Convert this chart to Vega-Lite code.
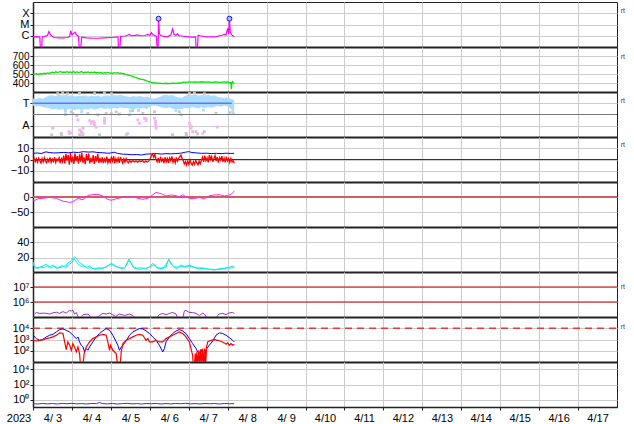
{
"$schema": "https://vega.github.io/schema/vega-lite/v6.json",
"padding": {"left": 2, "top": 1, "right": 0, "bottom": 0},
"spacing": 0,
"bounds": "flush",
"datasets": {
"xray": [{"h":0,"v":8e-7},{"h":2,"v":8.5e-7},{"h":4.2,"v":8e-7},{"h":4.5,"v":1e-7},{"h":5.4,"v":1e-7},{"h":5.7,"v":8e-7},{"h":7,"v":8.5e-7},{"h":9,"v":1.1e-6},{"h":9.8,"v":2.4e-6},{"h":10.5,"v":1.5e-6},{"h":11.5,"v":1e-6},{"h":13,"v":7e-7},{"h":16,"v":6.5e-7},{"h":19,"v":6.5e-7},{"h":21,"v":7e-7},{"h":22.5,"v":8e-7},{"h":23.3,"v":2.8e-6},{"h":24,"v":1.2e-6},{"h":25,"v":1.6e-6},{"h":26,"v":2.1e-6},{"h":26.8,"v":1.2e-6},{"h":28,"v":9e-7},{"h":28.5,"v":1e-7},{"h":29.5,"v":1e-7},{"h":30,"v":7.5e-7},{"h":33,"v":6.5e-7},{"h":36,"v":6.2e-7},{"h":40,"v":6e-7},{"h":44,"v":6.5e-7},{"h":48,"v":7e-7},{"h":51,"v":7.5e-7},{"h":52.4,"v":8e-7},{"h":52.6,"v":1e-7},{"h":53.6,"v":1e-7},{"h":54,"v":9e-7},{"h":57,"v":9.5e-7},{"h":59.5,"v":1.3e-6},{"h":60.5,"v":1e-6},{"h":63,"v":1.1e-6},{"h":64.5,"v":1.2e-6},{"h":66,"v":1e-6},{"h":69,"v":1.05e-6},{"h":70.5,"v":1.3e-6},{"h":72,"v":1.1e-6},{"h":73,"v":1.9e-6},{"h":74,"v":1.2e-6},{"h":76,"v":9e-7},{"h":76.5,"v":1e-7},{"h":77.1,"v":1e-7},{"h":77.4,"v":3.3e-5},{"h":77.9,"v":1.5e-6},{"h":78.6,"v":1.1e-6},{"h":80,"v":9e-7},{"h":83,"v":8e-7},{"h":85,"v":1.2e-6},{"h":86,"v":4e-6},{"h":87,"v":1.3e-6},{"h":88,"v":1.1e-6},{"h":89,"v":1.5e-6},{"h":90,"v":1e-6},{"h":93,"v":9e-7},{"h":96,"v":8e-7},{"h":98,"v":7.5e-7},{"h":100.2,"v":8e-7},{"h":100.5,"v":1e-7},{"h":101.4,"v":1e-7},{"h":101.8,"v":1.1e-6},{"h":103,"v":1e-6},{"h":106,"v":8.5e-7},{"h":110,"v":8e-7},{"h":113,"v":8.5e-7},{"h":115,"v":1e-6},{"h":116.5,"v":1.1e-6},{"h":118,"v":1.3e-6},{"h":119,"v":1.2e-6},{"h":120,"v":4.5e-6},{"h":120.6,"v":1.5e-6},{"h":121.1,"v":3.3e-5},{"h":121.6,"v":2e-6},{"h":122.5,"v":1.2e-6},{"h":124,"v":8e-7}],
"flares": [{"h":77.4,"v":3.3e-5},{"h":121.1,"v":3.3e-5}],
"sw": [{"h":0,"v":500},{"h":1,"v":497},{"h":2,"v":503},{"h":3,"v":498},{"h":4,"v":500},{"h":5,"v":505},{"h":6,"v":502},{"h":7,"v":508},{"h":8,"v":504},{"h":9,"v":512},{"h":10,"v":506},{"h":11,"v":515},{"h":12,"v":520},{"h":13,"v":512},{"h":14,"v":524},{"h":15,"v":518},{"h":16,"v":522},{"h":17,"v":528},{"h":18,"v":516},{"h":19,"v":522},{"h":20,"v":519},{"h":21,"v":526},{"h":22,"v":517},{"h":23,"v":523},{"h":24,"v":515},{"h":25,"v":530},{"h":26,"v":512},{"h":27,"v":525},{"h":28,"v":517},{"h":29,"v":520},{"h":30,"v":527},{"h":31,"v":514},{"h":32,"v":521},{"h":33,"v":518},{"h":34,"v":524},{"h":35,"v":513},{"h":36,"v":520},{"h":37,"v":515},{"h":38,"v":522},{"h":39,"v":512},{"h":40,"v":518},{"h":41,"v":510},{"h":42,"v":516},{"h":43,"v":508},{"h":44,"v":514},{"h":45,"v":511},{"h":46,"v":517},{"h":47,"v":509},{"h":48,"v":512},{"h":49,"v":506},{"h":50,"v":514},{"h":51,"v":510},{"h":52,"v":515},{"h":53,"v":508},{"h":54,"v":512},{"h":55,"v":505},{"h":56,"v":503},{"h":57,"v":496},{"h":58,"v":490},{"h":59,"v":485},{"h":60,"v":482},{"h":61,"v":475},{"h":62,"v":470},{"h":63,"v":462},{"h":64,"v":458},{"h":65,"v":452},{"h":66,"v":447},{"h":67,"v":440},{"h":68,"v":437},{"h":69,"v":432},{"h":70,"v":425},{"h":71,"v":418},{"h":72,"v":412},{"h":73,"v":407},{"h":74,"v":403},{"h":75,"v":398},{"h":76,"v":400},{"h":77,"v":395},{"h":78,"v":398},{"h":80,"v":394},{"h":82,"v":397},{"h":84,"v":393},{"h":86,"v":397},{"h":88,"v":395},{"h":90,"v":400},{"h":92,"v":405},{"h":93,"v":412},{"h":94,"v":408},{"h":96,"v":412},{"h":98,"v":409},{"h":100,"v":413},{"h":102,"v":410},{"h":104,"v":414},{"h":106,"v":409},{"h":108,"v":412},{"h":110,"v":408},{"h":112,"v":413},{"h":114,"v":410},{"h":116,"v":407},{"h":118,"v":412},{"h":119,"v":406},{"h":120,"v":414},{"h":121,"v":400},{"h":122,"v":405},{"h":122.3,"v":330},{"h":122.6,"v":400},{"h":123,"v":415},{"h":124,"v":392}],
"cloud": [{"h":0,"hi":1.72,"lo":1.40},{"h":2,"hi":1.68,"lo":1.36},{"h":4,"hi":1.74,"lo":1.38},{"h":6,"hi":1.70,"lo":1.33},{"h":8,"hi":1.78,"lo":1.30},{"h":10,"hi":1.84,"lo":1.28},{"h":12,"hi":1.86,"lo":1.22},{"h":14,"hi":1.82,"lo":1.26},{"h":16,"hi":1.88,"lo":1.20},{"h":18,"hi":1.84,"lo":1.25},{"h":20,"hi":1.87,"lo":1.18},{"h":22,"hi":1.83,"lo":1.24},{"h":24,"hi":1.86,"lo":1.22},{"h":26,"hi":1.80,"lo":1.20},{"h":28,"hi":1.85,"lo":1.25},{"h":30,"hi":1.82,"lo":1.19},{"h":32,"hi":1.86,"lo":1.24},{"h":34,"hi":1.80,"lo":1.22},{"h":36,"hi":1.84,"lo":1.27},{"h":38,"hi":1.81,"lo":1.21},{"h":40,"hi":1.85,"lo":1.26},{"h":42,"hi":1.79,"lo":1.30},{"h":44,"hi":1.83,"lo":1.25},{"h":46,"hi":1.86,"lo":1.28},{"h":48,"hi":1.82,"lo":1.24},{"h":50,"hi":1.87,"lo":1.30},{"h":52,"hi":1.84,"lo":1.27},{"h":54,"hi":1.88,"lo":1.32},{"h":56,"hi":1.83,"lo":1.28},{"h":58,"hi":1.80,"lo":1.30},{"h":60,"hi":1.78,"lo":1.25},{"h":62,"hi":1.82,"lo":1.22},{"h":64,"hi":1.79,"lo":1.28},{"h":66,"hi":1.83,"lo":1.26},{"h":68,"hi":1.77,"lo":1.30},{"h":70,"hi":1.80,"lo":1.24},{"h":72,"hi":1.74,"lo":1.34},{"h":74,"hi":1.70,"lo":1.40},{"h":76,"hi":1.72,"lo":1.38},{"h":78,"hi":1.78,"lo":1.35},{"h":80,"hi":1.86,"lo":1.30},{"h":82,"hi":1.88,"lo":1.28},{"h":84,"hi":1.84,"lo":1.32},{"h":86,"hi":1.87,"lo":1.26},{"h":88,"hi":1.80,"lo":1.24},{"h":90,"hi":1.76,"lo":1.22},{"h":92,"hi":1.74,"lo":1.26},{"h":94,"hi":1.85,"lo":1.30},{"h":96,"hi":1.88,"lo":1.28},{"h":98,"hi":1.86,"lo":1.33},{"h":100,"hi":1.89,"lo":1.30},{"h":102,"hi":1.85,"lo":1.27},{"h":104,"hi":1.87,"lo":1.32},{"h":106,"hi":1.84,"lo":1.29},{"h":108,"hi":1.88,"lo":1.33},{"h":110,"hi":1.83,"lo":1.30},{"h":112,"hi":1.86,"lo":1.35},{"h":114,"hi":1.78,"lo":1.38},{"h":116,"hi":1.76,"lo":1.35},{"h":118,"hi":1.74,"lo":1.40},{"h":120,"hi":1.76,"lo":1.37},{"h":122,"hi":1.70,"lo":1.25},{"h":124,"hi":1.65,"lo":1.15}],
"bluepts": [{"h":0.3,"v":1.55},{"h":1,"v":1.45},{"h":122.8,"v":1.12},{"h":123.5,"v":1.06},{"h":60,"v":1.15},{"h":65,"v":1.18},{"h":20,"v":1.14},{"h":30,"v":1.12},{"h":105,"v":1.2},{"h":88,"v":1.17}],
"graypts": [{"h":17.4,"v":0.16},{"h":22.6,"v":0.16},{"h":23.6,"v":1.12},{"h":24.6,"v":1.05},{"h":29.7,"v":0.24},{"h":30.8,"v":0.39},{"h":33.8,"v":1.05},{"h":45.1,"v":1.05},{"h":48.2,"v":1.05},{"h":51.3,"v":1.12},{"h":53.3,"v":1.02},{"h":59.5,"v":0.98},{"h":61.5,"v":1.17},{"h":67.7,"v":1.05},{"h":74.9,"v":1.12},{"h":90.2,"v":1.12},{"h":91.3,"v":0.98},{"h":94.3,"v":0.16},{"h":100.5,"v":0.24},{"h":101.5,"v":0.14},{"h":105.6,"v":0.24},{"h":112.8,"v":1.05},{"h":121,"v":1.08},{"h":15.2,"v":1.93},{"h":18.3,"v":1.95},{"h":21.3,"v":1.92},{"h":28.7,"v":1.94},{"h":38,"v":1.93},{"h":44,"v":1.95},{"h":48.4,"v":1.92},{"h":96.4,"v":1.93},{"h":99.5,"v":1.95},{"h":105.6,"v":1.92},{"h":20,"v":1.0},{"h":27,"v":0.95},{"h":40,"v":0.98},{"h":11.5,"v":0.1},{"h":17.7,"v":0.1},{"h":28.7,"v":0.1},{"h":30.6,"v":0.1},{"h":41,"v":0.1},{"h":57.7,"v":0.12},{"h":86,"v":0.1},{"h":94.6,"v":0.1}],
"pinkpts": [{"h":12.3,"v":0.39},{"h":12.1,"v":0.42},{"h":22.2,"v":0.24},{"h":23.6,"v":0.19},{"h":27.7,"v":0.76},{"h":28.7,"v":0.31},{"h":30.8,"v":0.16},{"h":34.9,"v":0.73},{"h":35.9,"v":0.61},{"h":35.9,"v":0.68},{"h":37.3,"v":0.68},{"h":37.9,"v":0.53},{"h":37.9,"v":0.6},{"h":39,"v":0.43},{"h":44.1,"v":0.83},{"h":44.1,"v":0.72},{"h":44.1,"v":0.61},{"h":58.5,"v":0.16},{"h":64.6,"v":0.76},{"h":65.6,"v":0.61},{"h":68.7,"v":0.83},{"h":69.7,"v":0.73},{"h":69.7,"v":0.8},{"h":74.9,"v":0.83},{"h":75.5,"v":0.61},{"h":75.5,"v":0.7},{"h":75.7,"v":0.5},{"h":75.9,"v":0.39},{"h":96.4,"v":0.61},{"h":97,"v":0.5},{"h":97.4,"v":0.46},{"h":97.4,"v":0.39},{"h":98.4,"v":0.24},{"h":104.6,"v":0.16},{"h":113.7,"v":0.44}],
"tline": [{"h":0,"v":1.5},{"h":122.5,"v":1.5}],
"bt": [{"h":0,"v":5.5},{"h":3,"v":5.8},{"h":5,"v":5.3},{"h":8,"v":6.8},{"h":10,"v":6.2},{"h":13,"v":5.8},{"h":16,"v":6.0},{"h":19,"v":6.3},{"h":22,"v":6.0},{"h":25,"v":6.5},{"h":28,"v":6.2},{"h":31,"v":7.0},{"h":34,"v":6.6},{"h":37,"v":6.8},{"h":40,"v":6.2},{"h":43,"v":6.0},{"h":46,"v":5.6},{"h":48,"v":5.8},{"h":50,"v":6.5},{"h":52,"v":5.5},{"h":55,"v":4.8},{"h":58,"v":4.6},{"h":61,"v":4.2},{"h":64,"v":4.4},{"h":67,"v":4.0},{"h":70,"v":4.8},{"h":73,"v":5.0},{"h":76,"v":5.4},{"h":79,"v":4.8},{"h":82,"v":5.2},{"h":85,"v":5.0},{"h":88,"v":5.3},{"h":91,"v":5.6},{"h":94,"v":6.5},{"h":96,"v":7.0},{"h":98,"v":6.2},{"h":101,"v":5.8},{"h":104,"v":5.5},{"h":107,"v":5.6},{"h":110,"v":5.3},{"h":113,"v":5.5},{"h":116,"v":5.2},{"h":119,"v":5.6},{"h":122,"v":5.4},{"h":124,"v":5.5}],
"bz": [{"h":0,"v":-1.5},{"h":0.7,"v":1.0},{"h":1.4,"v":-2.0},{"h":2.1,"v":0.5},{"h":2.8,"v":-2.5},{"h":3.5,"v":1.2},{"h":4.2,"v":-1.0},{"h":4.9,"v":-3.0},{"h":5.6,"v":0.8},{"h":6.3,"v":-2.2},{"h":7,"v":1.5},{"h":7.7,"v":-1.5},{"h":8.4,"v":-3.0},{"h":9.1,"v":0.3},{"h":9.8,"v":-2.0},{"h":10.5,"v":1.8},{"h":11.2,"v":-2.5},{"h":11.9,"v":0.5},{"h":12.6,"v":-1.8},{"h":13.3,"v":2.0},{"h":14,"v":-2.8},{"h":14.7,"v":0.2},{"h":15.4,"v":-1.2},{"h":16.1,"v":1.6},{"h":16.8,"v":-3.2},{"h":17.5,"v":0.8},{"h":18.2,"v":-2.0},{"h":18.9,"v":3.5},{"h":19.6,"v":-3.5},{"h":20.3,"v":5.0},{"h":21,"v":-1.0},{"h":21.7,"v":4.0},{"h":22.4,"v":-4.5},{"h":23.1,"v":6.0},{"h":23.8,"v":-2.5},{"h":24.5,"v":2.5},{"h":25.2,"v":-4.0},{"h":25.9,"v":5.5},{"h":26.6,"v":-1.5},{"h":27.3,"v":3.0},{"h":28,"v":-3.8},{"h":28.7,"v":4.5},{"h":29.4,"v":-2.0},{"h":30.1,"v":6.0},{"h":30.8,"v":-3.0},{"h":31.5,"v":2.0},{"h":32.2,"v":-4.2},{"h":32.9,"v":4.8},{"h":33.6,"v":-1.0},{"h":34.3,"v":5.2},{"h":35,"v":-3.5},{"h":35.7,"v":1.5},{"h":36.4,"v":-2.5},{"h":37.1,"v":4.0},{"h":37.8,"v":-4.0},{"h":38.5,"v":3.0},{"h":39.2,"v":-1.8},{"h":39.9,"v":5.0},{"h":40.6,"v":-3.0},{"h":41.3,"v":1.5},{"h":42,"v":-2.8},{"h":42.7,"v":2.0},{"h":43.4,"v":-3.2},{"h":44.1,"v":0.5},{"h":44.8,"v":-2.0},{"h":45.5,"v":2.5},{"h":46.2,"v":-3.0},{"h":46.9,"v":0.0},{"h":47.6,"v":-2.5},{"h":48.3,"v":1.8},{"h":49,"v":-1.5},{"h":49.7,"v":3.0},{"h":50.4,"v":-3.3},{"h":51.1,"v":0.8},{"h":51.8,"v":-2.2},{"h":52.5,"v":1.2},{"h":53.2,"v":-3.0},{"h":53.9,"v":2.2},{"h":54.6,"v":-1.0},{"h":55.3,"v":-3.4},{"h":56,"v":0.5},{"h":56.7,"v":-2.5},{"h":57.4,"v":1.0},{"h":58.1,"v":-2.0},{"h":58.8,"v":-3.0},{"h":59.5,"v":-1.0},{"h":60.5,"v":-2.4},{"h":61.5,"v":-0.8},{"h":62.5,"v":-2.2},{"h":63.5,"v":-1.2},{"h":64.5,"v":-2.6},{"h":65.5,"v":-1.0},{"h":66.5,"v":-2.0},{"h":67.5,"v":-0.9},{"h":68.5,"v":-2.5},{"h":69.5,"v":-1.4},{"h":70.5,"v":-2.2},{"h":71.5,"v":-1.0},{"h":72.3,"v":1.0},{"h":73,"v":3.5},{"h":73.7,"v":5.0},{"h":74.4,"v":2.0},{"h":75.1,"v":4.5},{"h":75.8,"v":0.5},{"h":76.5,"v":-2.0},{"h":77.2,"v":1.5},{"h":77.9,"v":-3.0},{"h":78.6,"v":2.5},{"h":79.3,"v":-1.5},{"h":80,"v":0.5},{"h":80.7,"v":-3.2},{"h":81.4,"v":2.0},{"h":82.1,"v":-2.2},{"h":82.8,"v":0.8},{"h":83.5,"v":-3.0},{"h":84.2,"v":1.5},{"h":84.9,"v":-1.0},{"h":85.6,"v":2.8},{"h":86.3,"v":-2.5},{"h":87,"v":0.2},{"h":87.7,"v":-3.0},{"h":88.4,"v":1.8},{"h":89.1,"v":-1.5},{"h":89.8,"v":1.0},{"h":90.5,"v":2.5},{"h":91.2,"v":4.0},{"h":91.9,"v":1.0},{"h":92.6,"v":-1.0},{"h":93.3,"v":-4.0},{"h":94,"v":-2.0},{"h":94.7,"v":-5.0},{"h":95.4,"v":-1.5},{"h":96.1,"v":-4.5},{"h":96.8,"v":-0.5},{"h":97.5,"v":-3.5},{"h":98.2,"v":-5.0},{"h":98.9,"v":-2.0},{"h":99.6,"v":-4.2},{"h":100.3,"v":-1.0},{"h":101,"v":-3.0},{"h":101.7,"v":-4.8},{"h":102.4,"v":-1.5},{"h":103.1,"v":-3.8},{"h":103.8,"v":-0.8},{"h":104.5,"v":2.0},{"h":105.2,"v":-2.0},{"h":105.9,"v":3.5},{"h":106.6,"v":-1.0},{"h":107.3,"v":1.5},{"h":108,"v":-2.5},{"h":108.7,"v":4.0},{"h":109.4,"v":0.0},{"h":110.1,"v":2.8},{"h":110.8,"v":-2.2},{"h":111.5,"v":1.0},{"h":112.2,"v":3.5},{"h":112.9,"v":-1.5},{"h":113.6,"v":2.2},{"h":114.3,"v":-2.8},{"h":115,"v":1.8},{"h":115.7,"v":-0.5},{"h":116.4,"v":3.0},{"h":117.1,"v":-2.0},{"h":117.8,"v":1.2},{"h":118.5,"v":-2.5},{"h":119.2,"v":2.5},{"h":119.9,"v":-1.2},{"h":120.6,"v":0.8},{"h":121.3,"v":-2.8},{"h":122,"v":1.0},{"h":122.7,"v":-2.2},{"h":123.4,"v":-1.0},{"h":124.1,"v":-3.4}],
"dst": [{"h":0,"v":-10},{"h":1,"v":-12},{"h":3.1,"v":-5.6},{"h":6.2,"v":-4.4},{"h":10.3,"v":-1},{"h":14.4,"v":-4.4},{"h":18.5,"v":-14},{"h":22.6,"v":-17.8},{"h":24.6,"v":-15.5},{"h":26.7,"v":-7.8},{"h":28.7,"v":-3.3},{"h":29.7,"v":-10},{"h":31.8,"v":-5.6},{"h":33.8,"v":5.5},{"h":36.9,"v":7.8},{"h":40,"v":8.9},{"h":43.1,"v":3.3},{"h":46.1,"v":-7.8},{"h":48.2,"v":-11},{"h":51.3,"v":-5.6},{"h":54.4,"v":-2.2},{"h":57.4,"v":0},{"h":59.5,"v":-2.2},{"h":61.5,"v":2},{"h":64.6,"v":-4.4},{"h":67.7,"v":-7.8},{"h":70.8,"v":-4.4},{"h":72.8,"v":3.3},{"h":75.9,"v":15.5},{"h":79,"v":11},{"h":82,"v":3.3},{"h":85.1,"v":6.7},{"h":88.2,"v":4.4},{"h":90.2,"v":0.5},{"h":92.3,"v":7.8},{"h":94.3,"v":0.5},{"h":96.4,"v":-4.4},{"h":99.5,"v":-5.6},{"h":102.6,"v":-1},{"h":105.6,"v":-6.7},{"h":108.7,"v":4.4},{"h":111.8,"v":6.7},{"h":114.9,"v":7.8},{"h":117.9,"v":3.3},{"h":120,"v":5.5},{"h":122,"v":7.8},{"h":124.1,"v":20}],
"dens": [{"s":"a","h":0,"v":14.6},{"s":"a","h":1,"v":7.1},{"s":"a","h":3.1,"v":5.8},{"s":"a","h":6.2,"v":8.9},{"s":"a","h":8.2,"v":11.5},{"s":"a","h":10.3,"v":7.1},{"s":"a","h":12.3,"v":10.2},{"s":"a","h":14.4,"v":5.8},{"s":"a","h":17.4,"v":7.1},{"s":"a","h":19.5,"v":8.9},{"s":"a","h":21.5,"v":12.4},{"s":"a","h":23.6,"v":15.9},{"s":"a","h":25.6,"v":21.1},{"s":"a","h":26.7,"v":18.9},{"s":"a","h":28.7,"v":13.3},{"s":"a","h":30.8,"v":10.2},{"s":"a","h":32.8,"v":7.1},{"s":"a","h":34.9,"v":8.9},{"s":"a","h":36.9,"v":5.4},{"s":"a","h":39,"v":4.5},{"s":"a","h":41,"v":5.8},{"s":"a","h":45.1,"v":7.1},{"s":"a","h":48.2,"v":12.4},{"s":"a","h":50.2,"v":10.2},{"s":"a","h":52.3,"v":7.1},{"s":"a","h":55.4,"v":5.4},{"s":"a","h":57.4,"v":8.9},{"s":"a","h":59,"v":18.1},{"s":"a","h":60.5,"v":12.4},{"s":"a","h":62.6,"v":5.8},{"s":"a","h":65.6,"v":4.5},{"s":"a","h":68.7,"v":5.4},{"s":"a","h":71.8,"v":7.1},{"s":"a","h":73.8,"v":12.4},{"s":"a","h":75.9,"v":7.1},{"s":"a","h":79,"v":5.4},{"s":"a","h":82,"v":7.1},{"s":"a","h":83.6,"v":18.1},{"s":"a","h":85.1,"v":11.5},{"s":"a","h":88.2,"v":5.4},{"s":"a","h":91.3,"v":10.2},{"s":"a","h":94.3,"v":7.1},{"s":"a","h":96.4,"v":10.2},{"s":"a","h":99.5,"v":7.1},{"s":"a","h":102.6,"v":5.4},{"s":"a","h":105.6,"v":5.8},{"s":"a","h":108.7,"v":4.5},{"s":"a","h":111.8,"v":3.6},{"s":"a","h":114.9,"v":5.4},{"s":"a","h":117.9,"v":5.8},{"s":"a","h":121,"v":7.1},{"s":"a","h":123.1,"v":8.9},{"s":"a","h":124.1,"v":7.1},
{"s":"b","h":0,"v":12},{"s":"b","h":1.5,"v":6},{"s":"b","h":4,"v":7.5},{"s":"b","h":7,"v":6.5},{"s":"b","h":9,"v":9.5},{"s":"b","h":11,"v":6.0},{"s":"b","h":13,"v":8.5},{"s":"b","h":15.5,"v":6.5},{"s":"b","h":18,"v":9.5},{"s":"b","h":20,"v":7.0},{"s":"b","h":22,"v":10.5},{"s":"b","h":24,"v":13.5},{"s":"b","h":25.2,"v":18.5},{"s":"b","h":26.2,"v":16.0},{"s":"b","h":27.5,"v":12.0},{"s":"b","h":29.5,"v":8.5},{"s":"b","h":31.5,"v":9.0},{"s":"b","h":33.5,"v":6.0},{"s":"b","h":35.5,"v":6.5},{"s":"b","h":38,"v":5.0},{"s":"b","h":40,"v":6.5},{"s":"b","h":43,"v":5.5},{"s":"b","h":46,"v":9.5},{"s":"b","h":49,"v":11.0},{"s":"b","h":51,"v":8.0},{"s":"b","h":54,"v":6.5},{"s":"b","h":56.5,"v":6.0},{"s":"b","h":58.5,"v":14.0},{"s":"b","h":59.5,"v":16.5},{"s":"b","h":61.5,"v":8.0},{"s":"b","h":64,"v":6.0},{"s":"b","h":67,"v":6.5},{"s":"b","h":70,"v":5.5},{"s":"b","h":73,"v":9.0},{"s":"b","h":74.8,"v":10.5},{"s":"b","h":77,"v":6.0},{"s":"b","h":80.5,"v":6.5},{"s":"b","h":83,"v":14.5},{"s":"b","h":84,"v":16.5},{"s":"b","h":86.5,"v":8.0},{"s":"b","h":89.5,"v":7.5},{"s":"b","h":92.5,"v":8.0},{"s":"b","h":95.5,"v":9.0},{"s":"b","h":97.5,"v":8.0},{"s":"b","h":101,"v":6.0},{"s":"b","h":104,"v":6.5},{"s":"b","h":107,"v":5.0},{"s":"b","h":110,"v":4.5},{"s":"b","h":113,"v":4.2},{"s":"b","h":116.5,"v":4.8},{"s":"b","h":119.5,"v":6.5},{"s":"b","h":122,"v":6.0},{"s":"b","h":124.1,"v":8.0}],
"proton": [{"h":1,"v":158000},{"h":2.1,"v":200000},{"h":4.1,"v":174000},{"h":7.2,"v":182000},{"h":10.3,"v":158000},{"h":12.3,"v":190000},{"h":14.4,"v":209000},{"h":16.4,"v":174000},{"h":18.5,"v":229000},{"h":20.5,"v":182000},{"h":22.6,"v":275000},{"h":23.6,"v":251000},{"h":24.6,"v":275000},{"h":25.6,"v":158000},{"h":26.7,"v":200000},{"h":27.7,"v":110000},{"h":28.7,"v":80000},{"h":30.8,"v":140000},{"h":33.8,"v":158000},{"h":36,"v":90000},{"h":39.5,"v":90000},{"h":41,"v":126000},{"h":43.1,"v":174000},{"h":45.1,"v":158000},{"h":47.2,"v":182000},{"h":49.2,"v":140000},{"h":51,"v":110000},{"h":53.3,"v":158000},{"h":56.4,"v":126000},{"h":59.5,"v":158000},{"h":61.5,"v":126000},{"h":63,"v":90000},{"h":66,"v":80000},{"h":76,"v":80000},{"h":77.9,"v":145000},{"h":80,"v":174000},{"h":82,"v":140000},{"h":84.1,"v":174000},{"h":86.1,"v":200000},{"h":88.2,"v":158000},{"h":89.2,"v":80000},{"h":92.3,"v":80000},{"h":93.3,"v":251000},{"h":94.3,"v":275000},{"h":96.4,"v":200000},{"h":98.4,"v":200000},{"h":100.5,"v":174000},{"h":102.6,"v":126000},{"h":104.6,"v":182000},{"h":105.6,"v":158000},{"h":107.7,"v":80000},{"h":112.8,"v":80000},{"h":113.8,"v":126000},{"h":114.9,"v":158000},{"h":116.9,"v":174000},{"h":119,"v":145000},{"h":121,"v":190000},{"h":123.1,"v":200000},{"h":124.1,"v":174000}],
"eblue": [{"h":0,"v":2400},{"h":2.1,"v":1200},{"h":4.1,"v":850},{"h":6.2,"v":1050},{"h":8.2,"v":1700},{"h":10.3,"v":2400},{"h":12.3,"v":2900},{"h":14.4,"v":4700},{"h":16.4,"v":7600},{"h":18.5,"v":8700},{"h":20.5,"v":6600},{"h":22.6,"v":4700},{"h":24.6,"v":2400},{"h":26.7,"v":1200},{"h":27.7,"v":1700},{"h":28.7,"v":610},{"h":29.7,"v":310},{"h":30.8,"v":220},{"h":31.8,"v":79},{"h":32.8,"v":155},{"h":33.8,"v":110},{"h":34.9,"v":220},{"h":36.9,"v":610},{"h":39,"v":1700},{"h":41,"v":3400},{"h":43.1,"v":5800},{"h":45.1,"v":9300},{"h":47.2,"v":6600},{"h":49.2,"v":2400},{"h":51.3,"v":610},{"h":52.3,"v":310},{"h":53.3,"v":110},{"h":54.4,"v":220},{"h":55.4,"v":310},{"h":57.4,"v":740},{"h":59.5,"v":2400},{"h":61.5,"v":4700},{"h":63.6,"v":6600},{"h":65.6,"v":9300},{"h":67.7,"v":8700},{"h":69.7,"v":5800},{"h":71.8,"v":3400},{"h":73.8,"v":1700},{"h":75.9,"v":850},{"h":77.9,"v":310},{"h":80,"v":79},{"h":81,"v":155},{"h":82,"v":610},{"h":84.1,"v":1700},{"h":86.1,"v":3400},{"h":88.2,"v":5800},{"h":90.2,"v":7600},{"h":92.3,"v":5800},{"h":94.3,"v":3400},{"h":96.4,"v":1200},{"h":98.4,"v":435},{"h":100.5,"v":155},{"h":101.5,"v":79},{"h":102.6,"v":56},{"h":103.6,"v":126},{"h":104.6,"v":56},{"h":105.4,"v":5},{"h":105.8,"v":40},{"h":106.7,"v":126},{"h":108.7,"v":310},{"h":110.8,"v":740},{"h":112.8,"v":2400},{"h":114.9,"v":3900},{"h":116.9,"v":3400},{"h":119,"v":2400},{"h":121,"v":1480},{"h":123.1,"v":850},{"h":124.1,"v":610}],
"ered": [{"h":0,"v":850},{"h":2.1,"v":740},{"h":4.1,"v":850},{"h":6.2,"v":980},{"h":8.2,"v":1200},{"h":10.3,"v":1380},{"h":12.3,"v":1700},{"h":14.4,"v":2400},{"h":16.4,"v":3900},{"h":18.5,"v":3400},{"h":19.5,"v":610},{"h":20.5,"v":126},{"h":21.5,"v":610},{"h":22.6,"v":310},{"h":23.6,"v":110},{"h":24.6,"v":435},{"h":25.6,"v":220},{"h":26.7,"v":79},{"h":27.7,"v":220},{"h":28.7,"v":56},{"h":29.3,"v":5},{"h":30.8,"v":5},{"h":31.5,"v":56},{"h":32.8,"v":220},{"h":34.9,"v":610},{"h":36.9,"v":1200},{"h":39,"v":1700},{"h":41,"v":2400},{"h":43.1,"v":2900},{"h":45.1,"v":2400},{"h":46.1,"v":610},{"h":47.2,"v":110},{"h":47.8,"v":310},{"h":49.2,"v":110},{"h":51.3,"v":56},{"h":52.1,"v":5},{"h":53.7,"v":5},{"h":54.4,"v":79},{"h":55.4,"v":435},{"h":57.4,"v":850},{"h":59.5,"v":1200},{"h":61.5,"v":1700},{"h":63.6,"v":2400},{"h":65.6,"v":2900},{"h":67.7,"v":2400},{"h":69.7,"v":850},{"h":70.8,"v":1200},{"h":71.8,"v":610},{"h":73.8,"v":610},{"h":75.9,"v":850},{"h":77.9,"v":610},{"h":80,"v":610},{"h":82,"v":1200},{"h":84.1,"v":1700},{"h":86.1,"v":2400},{"h":88.2,"v":3400},{"h":90.2,"v":4700},{"h":92.3,"v":3400},{"h":94.3,"v":1700},{"h":96.4,"v":610},{"h":97.4,"v":155},{"h":98.4,"v":40},{"h":98.8,"v":5},{"h":99.5,"v":5},{"h":100,"v":56},{"h":100.5,"v":5},{"h":101,"v":79},{"h":101.6,"v":5},{"h":102.2,"v":110},{"h":102.8,"v":5},{"h":103.4,"v":126},{"h":104,"v":5},{"h":104.6,"v":155},{"h":105.2,"v":5},{"h":105.8,"v":155},{"h":106.4,"v":5},{"h":107,"v":220},{"h":107.7,"v":610},{"h":109.7,"v":850},{"h":111.8,"v":980},{"h":113.8,"v":850},{"h":115.9,"v":700},{"h":117.9,"v":500},{"h":119,"v":380},{"h":120,"v":500},{"h":121,"v":310},{"h":122,"v":435},{"h":123.1,"v":310},{"h":124.1,"v":380}],
"p9": [{"h":0,"v":0.28},{"h":3,"v":0.25},{"h":6,"v":0.3},{"h":9,"v":0.26},{"h":12,"v":0.29},{"h":15,"v":0.25},{"h":18,"v":0.3},{"h":21,"v":0.27},{"h":24,"v":0.31},{"h":27,"v":0.26},{"h":30,"v":0.29},{"h":33,"v":0.25},{"h":36,"v":0.3},{"h":39,"v":0.28},{"h":41,"v":0.4},{"h":43,"v":0.29},{"h":46,"v":0.26},{"h":49,"v":0.3},{"h":52,"v":0.25},{"h":55,"v":0.28},{"h":58,"v":0.31},{"h":61,"v":0.26},{"h":64,"v":0.29},{"h":67,"v":0.25},{"h":70,"v":0.3},{"h":73,"v":0.27},{"h":76,"v":0.3},{"h":79,"v":0.25},{"h":82,"v":0.29},{"h":85,"v":0.26},{"h":88,"v":0.3},{"h":91,"v":0.27},{"h":94,"v":0.31},{"h":97,"v":0.26},{"h":100,"v":0.29},{"h":103,"v":0.25},{"h":106,"v":0.3},{"h":109,"v":0.27},{"h":112,"v":0.29},{"h":115,"v":0.25},{"h":118,"v":0.3},{"h":121,"v":0.27},{"h":124,"v":0.29}]
},
"vconcat": [
{"width":584,"height":45,
 "encoding":{"x":{"field":"h","type":"quantitative","title":null,"scale":{"domain":[0,360],"nice":false,"zero":false},"axis":{"values":[0,24,48,72,96,120,144,168,192,216,240,264,288,312,336],"tickCount":30,"labels":false,"ticks":false,"domainWidth":2,"grid":true,"minExtent":0,"maxExtent":0}}},
 "layer":[
  {"data":{"name":"xray"},"mark":{"type":"line","color":"#ff00ff","strokeWidth":1.2,"clip":true},"encoding":{"y":{"field":"v","type":"quantitative","title":null,"scale":{"type":"log","domain":[1e-7,1e-3]},"axis":{"values":[1e-6,1e-5,1e-4],"tickCount":10,"labelOverlap":false,"labelExpr":"datum.value < 3e-6 ? 'C' : datum.value < 3e-5 ? 'M' : 'X'"}}}},
  {"data":{"name":"flares"},"mark":{"type":"point","shape":"circle","filled":true,"fill":"#b4b4ff","stroke":"#1010ff","strokeWidth":1,"size":24,"opacity":1},"encoding":{"y":{"field":"v","type":"quantitative","title":null}}},
  {"data":{"values":[{"h":362.3,"v":1.5e-4,"lab":"rt"}]},"mark":{"type":"text","align":"left","baseline":"middle","fontSize":7,"color":"#444"},"encoding":{"y":{"field":"v","type":"quantitative","title":null},"text":{"field":"lab"}}}
 ]},
{"width":584,"height":45,
 "encoding":{"x":{"field":"h","type":"quantitative","title":null,"scale":{"domain":[0,360],"nice":false,"zero":false},"axis":{"values":[0,24,48,72,96,120,144,168,192,216,240,264,288,312,336],"tickCount":30,"labels":false,"ticks":false,"domainWidth":2,"grid":true,"minExtent":0,"maxExtent":0}}},
 "layer":[
  {"data":{"name":"sw"},"mark":{"type":"line","color":"#00e600","strokeWidth":1.3,"clip":true},"encoding":{"y":{"field":"v","type":"quantitative","title":null,"scale":{"domain":[300,800],"nice":false,"zero":false},"axis":{"values":[400,500,600,700],"tickCount":10,"labelOverlap":false,"labelFontSize":10}}}},
  {"data":{"values":[{"h":362.3,"v":689,"lab":"rt"}]},"mark":{"type":"text","align":"left","baseline":"middle","fontSize":7,"color":"#444"},"encoding":{"y":{"field":"v","type":"quantitative","title":null},"text":{"field":"lab"}}}
 ]},
{"width":584,"height":45,
 "encoding":{"x":{"field":"h","type":"quantitative","title":null,"scale":{"domain":[0,360],"nice":false,"zero":false},"axis":{"values":[0,24,48,72,96,120,144,168,192,216,240,264,288,312,336],"tickCount":30,"labels":false,"ticks":false,"domainWidth":2,"grid":true,"minExtent":0,"maxExtent":0}}},
 "layer":[
  {"data":{"name":"cloud"},"mark":{"type":"area","color":"#aadcff","opacity":1},"encoding":{"y":{"field":"hi","type":"quantitative","title":null,"scale":{"domain":[0,2],"nice":false,"zero":false},"axis":{"values":[0.5,1.5],"tickCount":10,"labelOverlap":false,"labelExpr":"datum.value > 1 ? 'T' : 'A'"}},"y2":{"field":"lo"}}},
  {"data":{"name":"bluepts"},"mark":{"type":"square","size":8,"color":"#aadcff","opacity":1},"encoding":{"y":{"field":"v","type":"quantitative","title":null}}},
  {"data":{"name":"graypts"},"mark":{"type":"square","size":8,"color":"#c8c8c8","opacity":1},"encoding":{"y":{"field":"v","type":"quantitative","title":null}}},
  {"data":{"name":"pinkpts"},"mark":{"type":"square","size":8,"color":"#f8b4f0","opacity":1},"encoding":{"y":{"field":"v","type":"quantitative","title":null}}},
  {"data":{"values":[{"h":0,"h2":360,"v":1}]},"mark":{"type":"rule","color":"#777777","strokeWidth":1},"encoding":{"x2":{"field":"h2"},"y":{"field":"v","type":"quantitative","title":null}}},
  {"data":{"name":"tline"},"mark":{"type":"line","color":"#6a74ee","strokeWidth":1.5},"encoding":{"y":{"field":"v","type":"quantitative","title":null}}},
  {"data":{"values":[{"h":362.3,"v":1.6,"lab":"rt"}]},"mark":{"type":"text","align":"left","baseline":"middle","fontSize":7,"color":"#444"},"encoding":{"y":{"field":"v","type":"quantitative","title":null},"text":{"field":"lab"}}}
 ]},
{"width":584,"height":45,
 "encoding":{"x":{"field":"h","type":"quantitative","title":null,"scale":{"domain":[0,360],"nice":false,"zero":false},"axis":{"values":[0,24,48,72,96,120,144,168,192,216,240,264,288,312,336],"tickCount":30,"labels":false,"ticks":false,"domainWidth":2,"grid":true,"minExtent":0,"maxExtent":0}}},
 "layer":[
  {"data":{"values":[{"h":0,"h2":360,"v":0}]},"mark":{"type":"rule","color":"#aa0000","strokeWidth":1},"encoding":{"x2":{"field":"h2"},"y":{"field":"v","type":"quantitative","title":null,"scale":{"domain":[-20,20],"nice":false,"zero":false},"axis":{"values":[-10,0,10],"tickCount":10,"labelOverlap":false}}}},
  {"data":{"name":"bt"},"mark":{"type":"line","color":"#0000ff","strokeWidth":1},"encoding":{"y":{"field":"v","type":"quantitative","title":null}}},
  {"data":{"name":"bz"},"mark":{"type":"line","color":"#ff0000","strokeWidth":1.3},"encoding":{"y":{"field":"v","type":"quantitative","title":null}}},
  {"data":{"values":[{"h":362.3,"v":12.9,"lab":"rt"}]},"mark":{"type":"text","align":"left","baseline":"middle","fontSize":7,"color":"#444"},"encoding":{"y":{"field":"v","type":"quantitative","title":null},"text":{"field":"lab"}}}
 ]},
{"width":584,"height":45,
 "encoding":{"x":{"field":"h","type":"quantitative","title":null,"scale":{"domain":[0,360],"nice":false,"zero":false},"axis":{"values":[0,24,48,72,96,120,144,168,192,216,240,264,288,312,336],"tickCount":30,"labels":false,"ticks":false,"domainWidth":2,"grid":true,"minExtent":0,"maxExtent":0}}},
 "layer":[
  {"data":{"values":[{"h":0,"h2":360,"v":0}]},"mark":{"type":"rule","color":"#cc6060","strokeWidth":2},"encoding":{"x2":{"field":"h2"},"y":{"field":"v","type":"quantitative","title":null,"scale":{"domain":[-100,50],"nice":false,"zero":false},"axis":{"values":[-50,0],"tickCount":10,"labelOverlap":false}}}},
  {"data":{"name":"dst"},"mark":{"type":"line","color":"#ff22ff","strokeWidth":1},"encoding":{"y":{"field":"v","type":"quantitative","title":null}}}
 ]},
{"width":584,"height":45,
 "encoding":{"x":{"field":"h","type":"quantitative","title":null,"scale":{"domain":[0,360],"nice":false,"zero":false},"axis":{"values":[0,24,48,72,96,120,144,168,192,216,240,264,288,312,336],"tickCount":30,"labels":false,"ticks":false,"domainWidth":2,"grid":true,"minExtent":0,"maxExtent":0}}},
 "layer":[
  {"data":{"name":"dens"},"mark":{"type":"line","color":"#00eeee","strokeWidth":1},"encoding":{"detail":{"field":"s"},"y":{"field":"v","type":"quantitative","title":null,"scale":{"domain":[1,60],"nice":false,"zero":false},"axis":{"values":[20,40],"tickCount":10,"labelOverlap":false}}}}
 ]},
{"width":584,"height":45,
 "encoding":{"x":{"field":"h","type":"quantitative","title":null,"scale":{"domain":[0,360],"nice":false,"zero":false},"axis":{"values":[0,24,48,72,96,120,144,168,192,216,240,264,288,312,336],"tickCount":30,"labels":false,"ticks":false,"domainWidth":2,"grid":true,"minExtent":0,"maxExtent":0}}},
 "layer":[
  {"data":{"values":[{"h":0,"h2":360,"v":1000000},{"h":0,"h2":360,"v":10000000}]},"mark":{"type":"rule","color":"#cc0000","strokeWidth":1},"encoding":{"x2":{"field":"h2"},"y":{"field":"v","type":"quantitative","title":null,"scale":{"type":"log","domain":[100000,50000000]},"axis":{"values":[1000000,10000000],"tickCount":10,"labelOverlap":false,"labelExpr":"datum.value > 3000000 ? '10⁷' : '10⁶'"}}}},
  {"data":{"name":"proton"},"mark":{"type":"line","color":"#9b30d9","strokeWidth":1,"clip":true},"encoding":{"y":{"field":"v","type":"quantitative","title":null}}},
  {"data":{"values":[{"h":362.3,"v":10000000,"lab":"rt"}]},"mark":{"type":"text","align":"left","baseline":"middle","fontSize":7,"color":"#444"},"encoding":{"y":{"field":"v","type":"quantitative","title":null},"text":{"field":"lab"}}}
 ]},
{"width":584,"height":45,
 "encoding":{"x":{"field":"h","type":"quantitative","title":null,"scale":{"domain":[0,360],"nice":false,"zero":false},"axis":{"values":[0,24,48,72,96,120,144,168,192,216,240,264,288,312,336],"tickCount":30,"labels":false,"ticks":false,"domainWidth":2,"grid":true,"minExtent":0,"maxExtent":0}}},
 "layer":[
  {"data":{"values":[{"h":0,"h2":360,"v":10000}]},"mark":{"type":"rule","color":"#e03a3a","strokeWidth":1.3,"strokeDash":[7,5]},"encoding":{"x2":{"field":"h2"},"y":{"field":"v","type":"quantitative","title":null,"scale":{"type":"log","domain":[10,100000]},"axis":{"values":[100,1000,10000],"tickCount":10,"labelOverlap":false,"labelExpr":"datum.value > 3000 ? '10⁴' : datum.value > 300 ? '10³' : '10²'"}}}},
  {"data":{"name":"eblue"},"mark":{"type":"line","color":"#0000ff","strokeWidth":1,"clip":true},"encoding":{"y":{"field":"v","type":"quantitative","title":null}}},
  {"data":{"name":"ered"},"mark":{"type":"line","color":"#ff0000","strokeWidth":1.2,"clip":true},"encoding":{"y":{"field":"v","type":"quantitative","title":null}}},
  {"data":{"values":[{"h":362.3,"v":13000,"lab":"rt"}]},"mark":{"type":"text","align":"left","baseline":"middle","fontSize":7,"color":"#444"},"encoding":{"y":{"field":"v","type":"quantitative","title":null},"text":{"field":"lab"}}}
 ]},
{"width":584,"height":45,
 "encoding":{"x":{"field":"h","type":"quantitative","title":"2023","scale":{"domain":[0,360],"nice":false,"zero":false},"axis":{"values":[0,24,48,72,96,120,144,168,192,216,240,264,288,312,336],"tickCount":30,"labelExpr":"'4/' + ((datum.value/24+3) < 10 ? ' ' : '') + (datum.value/24+3)","labelOffset":19.5,"labelFlush":false,"labelOverlap":false,"ticks":true,"tickSize":3,"labelPadding":2,"domainWidth":1.5,"grid":true,"titleX":-14.5,"titleY":5,"titleAlign":"center","titleBaseline":"top","titleFontWeight":"normal","titleFontSize":11}}},
 "layer":[
  {"data":{"name":"p9"},"mark":{"type":"line","color":"#3333ee","strokeWidth":1},"encoding":{"y":{"field":"v","type":"quantitative","title":null,"scale":{"type":"log","domain":[0.1,100000]},"axis":{"values":[1,100,10000],"tickCount":10,"labelOverlap":false,"labelExpr":"datum.value > 1000 ? '10⁴' : datum.value > 10 ? '10²' : '10⁰'"}}}}
 ]}
],
"config": {
 "view": {"stroke": "#222222", "strokeWidth": 1},
 "font": "Liberation Sans",
 "axis": {"labelFont": "Liberation Sans", "labelFontSize": 11, "labelColor": "#000000", "titleFont": "Liberation Sans", "titleColor": "#000000", "gridColor": "#cccccc", "gridWidth": 1, "tickColor": "#222222", "domainColor": "#222222", "tickSize": 3, "labelPadding": 1},
 "axisY": {"minExtent": 30, "maxExtent": 30, "domainWidth": 1.5, "grid": true, "labelOverlap": false}
}
}
